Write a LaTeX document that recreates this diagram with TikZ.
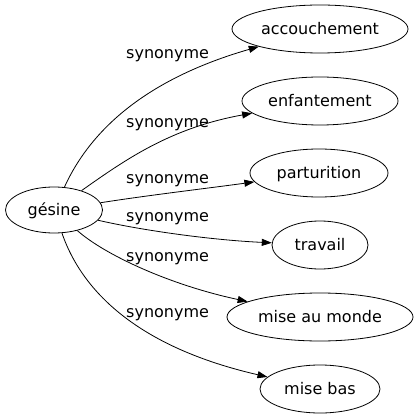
\documentclass[tikz,border=0pt]{standalone}
\usepackage{fontspec}
\setmainfont{DejaVu Sans}
\usetikzlibrary{shapes.geometric,arrows.meta}
\begin{document}
\begin{tikzpicture}[x=1pt,y=-1pt,
  every node/.style={font=\fontsize{16}{19}\selectfont},
  term/.style={draw,ellipse,line width=0.8pt,inner sep=0pt,text height=12pt,text depth=1pt,minimum height=48pt},
  lbl/.style={anchor=base west,inner sep=0pt},
  edge/.style={line width=0.8pt,-{Triangle[length=10pt,width=7pt]}}]
\useasboundingbox (0,0) rectangle (418,419);
\node[term,minimum width=97pt,minimum height=46pt] (g) at (54,210) {gésine};
\node[term,minimum width=176pt] (a) at (320,29) {accouchement};
\node[term,minimum width=156pt] (e) at (320,101) {enfantement};
\node[term,minimum width=138pt] (p) at (319,173) {parturition};
\node[term,minimum width=96pt] (t) at (320,245) {travail};
\node[term,minimum width=186pt] (m) at (320,317) {mise au monde};
\node[term,minimum width=120pt] (b) at (320,389) {mise bas};
\draw[edge] (g) .. controls (95,120) and (160,75) .. (a);
\draw[edge] (g) .. controls (125,160) and (170,128) .. (e);
\draw[edge] (g) .. controls (150,195) and (210,188) .. (p);
\draw[edge] (g) .. controls (140,230) and (210,240) .. (t);
\draw[edge] (g) .. controls (105,255) and (170,285) .. (m);
\draw[edge] (g) .. controls (85,300) and (150,350) .. (b);
\node[lbl] (l1) at (126,59) {synonyme};
\node[lbl] (l2) at (126,128) {synonyme};
\node[lbl] (l3) at (126,184) {synonyme};
\node[lbl] (l4) at (126,222) {synonyme};
\node[lbl] (l5) at (126,261) {synonyme};
\node[lbl] (l6) at (126,317) {synonyme};
\end{tikzpicture}
\end{document}
